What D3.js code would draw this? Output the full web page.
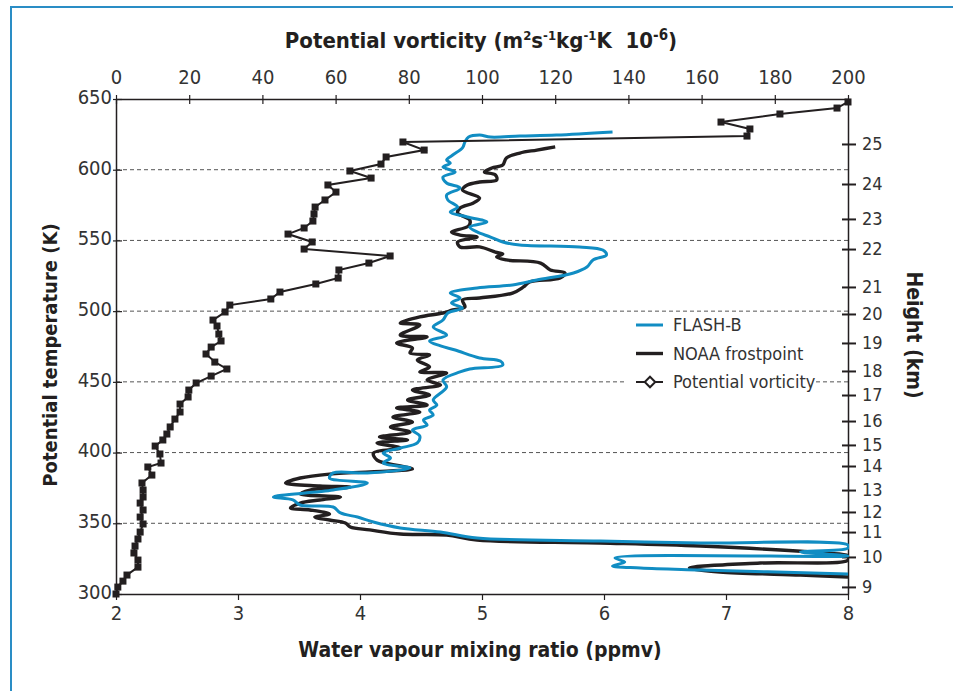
<!DOCTYPE html>
<html>
<head>
<meta charset="utf-8">
<script src="https://cdn.jsdelivr.net/npm/d3@7"></script>
<style>
  body { margin: 0; background: #fff; }
  svg { display: block; }
</style>
</head>
<body>
<svg id="chart" width="953" height="691"></svg>
<script>
// potential vorticity profile (top axis), one value per square marker
const pvValues = [200, 197.0, 181.4, 165.3, 173.2, 172.4, 78.4, 84.2, 73.8, 72.4, 63.9, 69.7, 57.9, 60.1,
  57.1, 54.4, 54.1, 53.8, 51.4, 47.0, 53.6, 51.4, 74.9, 69.1, 60.9, 60.7, 54.6, 44.8, 42.3, 31.1,
  29.8, 26.5, 27.6, 28.1, 28.7, 26.0, 24.6, 27.0, 30.3, 26.0, 21.9, 19.9, 19.7, 17.5, 17.5, 16.1,
  14.8, 13.9, 12.8, 10.7, 12.0, 12.3, 8.7, 9.8, 7.1, 7.4, 7.4, 6.6, 7.4, 6.6, 7.4, 6.6, 6.0, 5.2,
  4.9, 6.0, 6.0, 3.0, 1.9, 0.5, 0];
const pvTheta = [647.9, 643.6, 639.4, 633.7, 628.8, 623.8, 619.6, 613.9, 609.0, 604.0, 599.1, 594.1,
  589.2, 584.2, 578.6, 573.6, 568.7, 563.7, 558.8, 554.5, 548.9, 543.9, 539.0, 534.0, 529.1, 523.4,
  519.2, 513.5, 508.6, 504.3, 499.4, 493.7, 489.5, 483.8, 478.9, 474.6, 469.7, 464.0, 459.1, 454.1,
  449.2, 444.2, 439.3, 434.3, 428.7, 423.7, 418.1, 413.1, 408.9, 404.6, 399.0, 392.6, 389.8, 384.1,
  378.5, 373.5, 368.6, 364.3, 359.4, 354.4, 349.5, 343.8, 338.9, 333.9, 329.0, 324.0, 319.0, 313.4,
  309.1, 304.9, 300];

// NOAA frostpoint hygrometer, water vapour (ppmv) vs potential temperature (K)
const noaaWv = [5.60, 5.45, 5.31, 5.20, 5.17, 5.08, 5.02, 5.11, 5.12, 4.98, 4.88, 4.84, 4.98, 4.93,
  4.82, 4.80, 4.90, 4.89, 4.75, 4.82, 4.96, 4.80, 4.82, 4.98, 5.11, 5.17, 5.12, 5.20, 5.48, 5.56,
  5.68, 5.64, 5.39, 5.34, 5.25, 4.98, 4.84, 4.86, 4.76, 4.68, 4.49, 4.33, 4.49, 4.33, 4.55, 4.30,
  4.43, 4.41, 4.57, 4.47, 4.57, 4.49, 4.71, 4.55, 4.66, 4.43, 4.57, 4.39, 4.55, 4.30, 4.49, 4.27,
  4.43, 4.25, 4.41, 4.16, 4.39, 4.14, 4.33, 4.11, 4.14, 4.33, 4.43, 4.25, 3.75, 3.51, 3.39, 3.67,
  3.92, 3.59, 3.51, 3.84, 3.67, 3.51, 3.43, 3.59, 3.75, 3.63, 3.75, 3.88, 3.92, 4.08, 4.33, 4.71,
  4.96, 5.97, 6.79, 7.80, 8.00, 8.00, 7.28, 6.70, 6.95, 7.61, 8.00];
const noaaTheta = [616.1, 613.9, 611.8, 608.3, 603.3, 601.2, 598.4, 596.3, 592.7, 591.3, 589.2, 585.7,
  580.0, 576.5, 572.9, 569.4, 564.4, 560.2, 556.0, 553.8, 552.4, 548.9, 545.4, 545.4, 541.8, 540.4,
  538.3, 536.2, 534.0, 529.1, 527.0, 523.4, 520.6, 517.1, 512.8, 509.3, 507.9, 502.9, 500.8, 498.7,
  495.9, 491.6, 490.2, 483.1, 481.7, 477.5, 473.9, 470.4, 469.0, 465.5, 460.5, 457.0, 456.3, 451.3,
  447.8, 444.2, 440.7, 437.2, 433.6, 431.5, 428.7, 425.1, 421.6, 418.1, 414.5, 411.0, 408.9, 406.8,
  403.2, 399.7, 394.7, 390.5, 388.4, 387.0, 384.8, 382.0, 378.5, 376.4, 375.6, 373.5, 370.7, 368.6,
  366.5, 364.3, 360.8, 359.4, 356.6, 354.4, 352.3, 350.2, 347.4, 345.3, 342.4, 341.7, 338.2, 336.1,
  333.9, 328.9, 326.9, 324.0, 321.9, 318.4, 315.6, 313.4, 312.0];

// FLASH-B Lyman-alpha hygrometer
const flashWv = [6.07, 5.61, 5.31, 5.07, 4.98, 4.89, 4.86, 4.84, 4.76, 4.71, 4.74, 4.68, 4.78, 4.68,
  4.71, 4.82, 4.71, 4.72, 4.80, 4.74, 4.88, 5.04, 4.90, 4.96, 5.07, 5.17, 5.31, 5.80, 5.99, 6.02,
  5.91, 5.86, 5.75, 5.45, 5.25, 4.96, 4.74, 4.82, 4.75, 4.84, 4.72, 4.68, 4.60, 4.71, 4.57, 4.66,
  4.78, 4.98, 5.15, 5.17, 4.90, 4.82, 4.68, 4.71, 4.60, 4.63, 4.57, 4.60, 4.52, 4.55, 4.43, 4.49,
  4.47, 4.33, 4.19, 4.25, 4.19, 4.41, 4.06, 3.78, 3.75, 4.06, 3.78, 3.29, 3.45, 3.51, 3.78, 3.84,
  3.98, 4.11, 4.33, 4.66, 4.96, 5.97, 6.79, 8.00, 8.00, 7.61, 8.00, 6.09, 6.17, 6.07, 6.30, 6.79, 8.00];
const flashTheta = [626.7, 624.5, 623.8, 623.1, 624.5, 623.1, 619.6, 615.4, 610.4, 606.9, 604.7, 601.9,
  598.4, 594.8, 590.6, 587.1, 582.1, 578.6, 573.6, 570.1, 566.6, 563.0, 559.5, 556.0, 552.4, 548.9,
  546.8, 545.4, 543.2, 539.7, 536.2, 531.2, 527.0, 522.0, 518.5, 516.4, 512.8, 509.3, 505.8, 502.2,
  498.7, 493.7, 488.8, 483.1, 478.9, 475.4, 472.5, 466.9, 464.7, 461.9, 459.1, 457.0, 451.3, 446.4,
  437.2, 433.6, 430.1, 426.6, 423.0, 419.5, 416.0, 411.7, 406.8, 403.2, 399.7, 396.2, 392.6, 389.1,
  385.6, 385.6, 382.0, 378.5, 373.5, 368.6, 366.5, 362.9, 361.5, 357.3, 354.4, 350.9, 346.7, 343.8,
  339.6, 337.5, 336.1, 334.6, 332.5, 329.7, 326.9, 325.5, 322.6, 319.8, 318.4, 317.0, 314.1];

// right axis: geometric height labels placed at their potential temperature
const heightKm = [25, 24, 23, 22, 21, 20, 19, 18, 17, 16, 15, 14, 13, 12, 11, 10, 9];
const heightTheta = [618.2, 589.9, 565.2, 543.9, 517.1, 498.0, 477.5, 457.7, 440.7, 422.3, 405.4,
  390.5, 373.5, 358.0, 343.8, 326.2, 305.0];

const thetaTicks = [300, 350, 400, 450, 500, 550, 600, 650];
const gridTheta = [350, 400, 450, 500, 550, 600];
const wvTicks = [2, 3, 4, 5, 6, 7, 8];
const pvTicks = [0, 20, 40, 60, 80, 100, 120, 140, 160, 180, 200];

const legendItems = ["FLASH-B", "NOAA frostpoint", "Potential vorticity"];

const FONT = "'DejaVu Sans Condensed', 'Liberation Sans Narrow', sans-serif";
const INK = "#231f20";
const BLUE = "#118dc3";

const margin = { top: 99, right: 105, bottom: 97, left: 116 };
const width = 953, height = 691;

const svg = d3.select("#chart")
  .attr("font-family", FONT);

// blue page frame
svg.append("path")
  .attr("d", `M11,${height} V7 H${width}`)
  .attr("fill", "none")
  .attr("stroke", "#2a8dc5")
  .attr("stroke-width", 2);

const x = d3.scaleLinear()
  .domain([2, 8])
  .range([margin.left, width - margin.right]);

const xpv = d3.scaleLinear()
  .domain([0, 200])
  .range([margin.left, width - margin.right]);

const y = d3.scaleLinear()
  .domain([300, 650])
  .range([height - margin.bottom, margin.top]);

// dashed gridlines
svg.append("g")
  .selectAll("line")
  .data(gridTheta)
  .join("line")
  .attr("x1", x(2))
  .attr("x2", x(8))
  .attr("y1", d => y(d))
  .attr("y2", d => y(d))
  .attr("stroke", "#555")
  .attr("stroke-width", 1)
  .attr("stroke-dasharray", "4,3");

function styleAxis(g) {
  g.select(".domain").attr("stroke", INK).attr("stroke-width", 1.5);
  g.selectAll(".tick line").attr("stroke", INK).attr("stroke-width", 1.2);
  g.selectAll(".tick text").attr("fill", "#333").attr("font-family", FONT).attr("font-size", 20);
}

// bottom axis, water vapour
svg.append("g")
  .attr("transform", `translate(0,${y(300)})`)
  .call(d3.axisBottom(x).tickValues(wvTicks).tickFormat(d3.format("d"))
    .tickSize(6).tickSizeOuter(0).tickPadding(6))
  .call(styleAxis);

// top axis, potential vorticity
svg.append("g")
  .attr("transform", `translate(0,${y(650)})`)
  .call(d3.axisTop(xpv).tickValues(pvTicks).tickSize(4).tickSizeOuter(0).tickPadding(11))
  .call(styleAxis)
  .call(g => g.selectAll(".tick line").attr("y2", 5).attr("y1", -4));

// left axis, potential temperature
svg.append("g")
  .attr("transform", `translate(${x(2)},0)`)
  .call(d3.axisLeft(y).tickValues(thetaTicks).tickSize(2).tickSizeOuter(0).tickPadding(2))
  .call(styleAxis)
  .call(g => g.selectAll(".tick line").attr("x2", -3).attr("x1", 6))
  .call(g => g.selectAll(".tick text").attr("dy", "0.22em"));

// right axis, height in km
svg.append("g")
  .attr("transform", `translate(${x(8)},0)`)
  .call(d3.axisRight(y).tickValues(heightTheta).tickSize(8).tickSizeOuter(0).tickPadding(6)
    .tickFormat((d, i) => heightKm[i]))
  .call(styleAxis)
  .call(g => g.selectAll(".tick line").attr("x1", -6).attr("stroke-width", 2))
  .call(g => g.selectAll(".tick text").attr("font-size", 18));

// profiles
const wvLine = d3.line()
  .x(d => x(d[0]))
  .y(d => y(d[1]))
  .curve(d3.curveCatmullRom.alpha(0.5));

svg.append("clipPath").attr("id", "plotclip")
  .append("rect")
  .attr("x", x(2)).attr("y", y(650) - 6)
  .attr("width", x(8) - x(2) + 1).attr("height", y(300) - y(650) + 12);

const plot = svg.append("g").attr("clip-path", "url(#plotclip)");

plot.append("path")
  .datum(d3.zip(noaaWv, noaaTheta))
  .attr("fill", "none")
  .attr("stroke", INK)
  .attr("stroke-width", 3.4)
  .attr("stroke-linejoin", "round")
  .attr("d", wvLine);

plot.append("path")
  .datum(d3.zip(flashWv, flashTheta))
  .attr("fill", "none")
  .attr("stroke", BLUE)
  .attr("stroke-width", 3)
  .attr("stroke-linejoin", "round")
  .attr("d", wvLine);

const pvData = d3.zip(pvValues, pvTheta);

svg.append("path")
  .datum(pvData)
  .attr("fill", "none")
  .attr("stroke", INK)
  .attr("stroke-width", 2)
  .attr("d", d3.line().x(d => xpv(d[0])).y(d => y(d[1])));

svg.append("g")
  .selectAll("rect")
  .data(pvData)
  .join("rect")
  .attr("x", d => xpv(d[0]) - 3.5)
  .attr("y", d => y(d[1]) - 3.5)
  .attr("width", 7)
  .attr("height", 7)
  .attr("fill", INK);

// legend
const legend = svg.append("g")
  .attr("transform", "translate(636,325)");

const legendBg = legend.append("rect")
  .attr("x", -11).attr("y", 47)
  .attr("height", 20)
  .attr("fill", "#fff");

const legendText = legend.selectAll("text")
  .data(legendItems)
  .join("text")
  .attr("x", 37)
  .attr("y", (d, i) => i * 28.5)
  .attr("dy", "0.36em")
  .attr("font-size", 18)
  .attr("fill", "#333")
  .text(d => d);

// white box only as wide as the last label, so the dashed line resumes after it
legendBg.attr("width", 48 + legendText.filter((d, i) => i === 2).node().getComputedTextLength());

legend.append("line")
  .attr("x1", 0).attr("x2", 27).attr("y1", 0).attr("y2", 0)
  .attr("stroke", BLUE).attr("stroke-width", 3);
legend.append("line")
  .attr("x1", 0).attr("x2", 27).attr("y1", 28.5).attr("y2", 28.5)
  .attr("stroke", INK).attr("stroke-width", 3.4);
legend.append("line")
  .attr("x1", 0).attr("x2", 27).attr("y1", 57).attr("y2", 57)
  .attr("stroke", INK).attr("stroke-width", 2);
legend.append("path")
  .attr("d", d3.symbol(d3.symbolDiamond2, 70)())
  .attr("transform", "translate(14,57)")
  .attr("fill", "#fff")
  .attr("stroke", INK)
  .attr("stroke-width", 2);

// axis titles
const pvTitle = svg.append("text")
  .attr("x", 481)
  .attr("y", 48)
  .attr("text-anchor", "middle")
  .attr("font-size", 22)
  .attr("font-weight", "bold")
  .attr("fill", INK);
pvTitle.append("tspan").text("Potential vorticity (m");
pvTitle.append("tspan").attr("dy", -8).attr("font-size", 13).text("2");
pvTitle.append("tspan").attr("dy", 8).text("s");
pvTitle.append("tspan").attr("dy", -8).attr("font-size", 13).text("-1");
pvTitle.append("tspan").attr("dy", 8).text("kg");
pvTitle.append("tspan").attr("dy", -8).attr("font-size", 13).text("-1");
pvTitle.append("tspan").attr("dy", 8).attr("xml:space", "preserve").text("K  10");
pvTitle.append("tspan").attr("dy", -8).attr("font-size", 15).text("-6");
pvTitle.append("tspan").attr("dy", 8).text(")");

svg.append("text")
  .attr("x", 480)
  .attr("y", 657)
  .attr("text-anchor", "middle")
  .attr("font-size", 21)
  .attr("font-weight", "bold")
  .attr("fill", INK)
  .text("Water vapour mixing ratio (ppmv)");

svg.append("text")
  .attr("transform", "translate(57,355) rotate(-90)")
  .attr("text-anchor", "middle")
  .attr("font-size", 20)
  .attr("font-weight", "bold")
  .attr("fill", INK)
  .text("Potential temperature (K)");

svg.append("text")
  .attr("transform", "translate(907,335) rotate(90)")
  .attr("text-anchor", "middle")
  .attr("font-size", 21)
  .attr("font-weight", "bold")
  .attr("fill", INK)
  .text("Height (km)");
</script>
</body>
</html>
